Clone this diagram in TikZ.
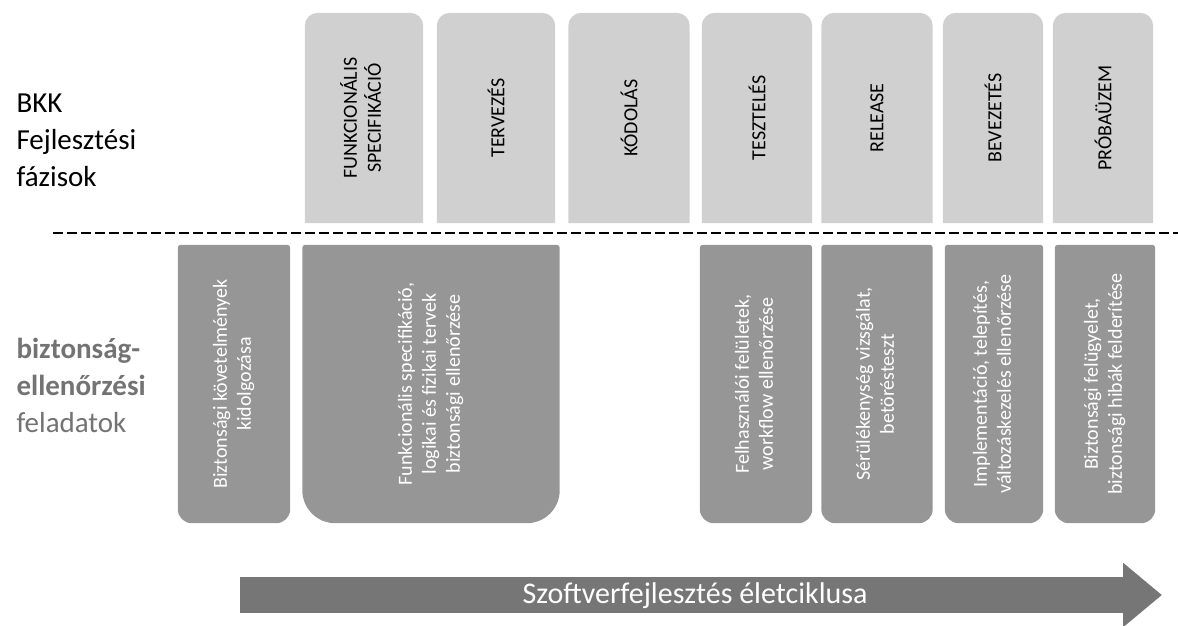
\documentclass[tikz,border=0pt]{standalone}
\usepackage{fontspec}
\setmainfont{Carlito}
\usetikzlibrary{backgrounds,arrows.meta}

\definecolor{phasegray}{RGB}{208,208,208}
\definecolor{taskgray}{RGB}{150,150,150}
\definecolor{arrowgray}{RGB}{118,118,118}
\definecolor{labelgray}{RGB}{115,115,115}

\tikzset{
  phase/.style={minimum height=210pt, inner sep=0pt, font=\fontsize{20}{24}\selectfont},
  task/.style={minimum height=278pt, inner sep=0pt, text=white, font=\fontsize{20}{24}\selectfont},
  phasefill/.style={fill=phasegray},
  taskfill/.style={fill=taskgray},
  sideline/.style={anchor=west, align=left, font=\fontsize{29}{37}\selectfont},
  sepline/.style={line width=1.5pt, dash pattern=on 10pt off 4pt},
  lifearrow/.style={draw=arrowgray, line width=36pt, -{Triangle[width=62pt,length=39pt]}},
  lifetext/.style={text=white, font=\fontsize{30}{36}\selectfont},
}

\begin{document}
\begin{tikzpicture}[x=1pt,y=-1pt]
    \useasboundingbox (0,0) rectangle (1178,625);

    % left hand labels
    \node[sideline] (bkk) at (13,140) {BKK\\Fejlesztési\\fázisok};
    \node[sideline, text=labelgray] (feladat) at (13,385) {\textbf{biztonság-}\\\textbf{ellenőrzési}\\feladatok};

    % development phases
    \node[phase, minimum width=118pt] (funkspec) at (364,118) {\rotatebox{90}{\begin{tabular}{@{}c@{}}FUNKCIONÁLIS\\SPECIFIKÁCIÓ\end{tabular}}};
    \node[phase, minimum width=118pt] (tervezes) at (496,118) {\rotatebox{90}{TERVEZÉS}};
    \node[phase, minimum width=121pt] (kodolas) at (629,118) {\rotatebox{90}{KÓDOLÁS}};
    \node[phase, minimum width=110pt] (teszteles) at (757,118) {\rotatebox{90}{TESZTELÉS}};
    \node[phase, minimum width=111pt] (release) at (877,118) {\rotatebox{90}{RELEASE}};
    \node[phase, minimum width=100pt] (bevezetes) at (993,118) {\rotatebox{90}{BEVEZETÉS}};
    \node[phase, minimum width=100pt] (probauzem) at (1103,118) {\rotatebox{90}{PRÓBAÜZEM}};

    % separator
    \coordinate (sepL) at (53,233);
    \coordinate (sepR) at (1178,233);
    \draw[sepline] (sepL) -- (sepR);

    % security tasks
    \node[task, minimum width=112pt] (kovetelm) at (234,384) {\rotatebox{90}{\begin{tabular}{@{}c@{}}Biztonsági követelmények\\kidolgozása\end{tabular}}};
    \node[task, minimum width=257pt] (tervell) at (431,384) {\rotatebox{90}{\begin{tabular}{@{}c@{}}Funkcionális specifikáció,\\logikai és fizikai tervek\\biztonsági ellenőrzése\end{tabular}}};
    \node[task, minimum width=112pt] (feluletell) at (756,384) {\rotatebox{90}{\begin{tabular}{@{}c@{}}Felhasználói felületek,\\workflow ellenőrzése\end{tabular}}};
    \node[task, minimum width=111pt] (betores) at (877,384) {\rotatebox{90}{\begin{tabular}{@{}c@{}}Sérülékenység vizsgálat,\\betörésteszt\end{tabular}}};
    \node[task, minimum width=98pt] (telepites) at (994,384) {\rotatebox{90}{\begin{tabular}{@{}c@{}}Implementáció, telepítés,\\változáskezelés ellenőrzése\end{tabular}}};
    \node[task, minimum width=100pt] (felugyelet) at (1105,384) {\rotatebox{90}{\begin{tabular}{@{}c@{}}Biztonsági felügyelet,\\biztonsági hibák felderítése\end{tabular}}};

    \begin{scope}[on background layer]
        \fill[phasefill] (funkspec.south west) [rounded corners=13pt] -- (funkspec.north west) -- (funkspec.north east) [sharp corners] -- (funkspec.south east) -- cycle;
        \fill[phasefill] (tervezes.south west) [rounded corners=13pt] -- (tervezes.north west) -- (tervezes.north east) [sharp corners] -- (tervezes.south east) -- cycle;
        \fill[phasefill] (kodolas.south west) [rounded corners=13pt] -- (kodolas.north west) -- (kodolas.north east) [sharp corners] -- (kodolas.south east) -- cycle;
        \fill[phasefill] (teszteles.south west) [rounded corners=13pt] -- (teszteles.north west) -- (teszteles.north east) [sharp corners] -- (teszteles.south east) -- cycle;
        \fill[phasefill] (release.south west) [rounded corners=13pt] -- (release.north west) -- (release.north east) [sharp corners] -- (release.south east) -- cycle;
        \fill[phasefill] (bevezetes.south west) [rounded corners=13pt] -- (bevezetes.north west) -- (bevezetes.north east) [sharp corners] -- (bevezetes.south east) -- cycle;
        \fill[phasefill] (probauzem.south west) [rounded corners=13pt] -- (probauzem.north west) -- (probauzem.north east) [sharp corners] -- (probauzem.south east) -- cycle;

        \fill[taskfill] (kovetelm.north west) [rounded corners=14pt] -- (kovetelm.south west) -- (kovetelm.south east) [rounded corners=3pt] -- (kovetelm.north east) -- cycle;
        \fill[taskfill] (tervell.north west) [rounded corners=33pt] -- (tervell.south west) -- (tervell.south east) [rounded corners=3pt] -- (tervell.north east) -- cycle;
        \fill[taskfill] (feluletell.north west) [rounded corners=14pt] -- (feluletell.south west) -- (feluletell.south east) [rounded corners=3pt] -- (feluletell.north east) -- cycle;
        \fill[taskfill] (betores.north west) [rounded corners=14pt] -- (betores.south west) -- (betores.south east) [rounded corners=3pt] -- (betores.north east) -- cycle;
        \fill[taskfill] (telepites.north west) [rounded corners=14pt] -- (telepites.south west) -- (telepites.south east) [rounded corners=3pt] -- (telepites.north east) -- cycle;
        \fill[taskfill] (felugyelet.north west) [rounded corners=14pt] -- (felugyelet.south west) -- (felugyelet.south east) [rounded corners=3pt] -- (felugyelet.north east) -- cycle;
    \end{scope}

    % life cycle arrow
    \coordinate (lifestart) at (240,595);
    \coordinate (lifeend) at (1162,595);
    \draw[lifearrow] (lifestart) -- (lifeend);
    \node[lifetext] (life) at (695,596) {Szoftverfejlesztés életciklusa};
\end{tikzpicture}
\end{document}
